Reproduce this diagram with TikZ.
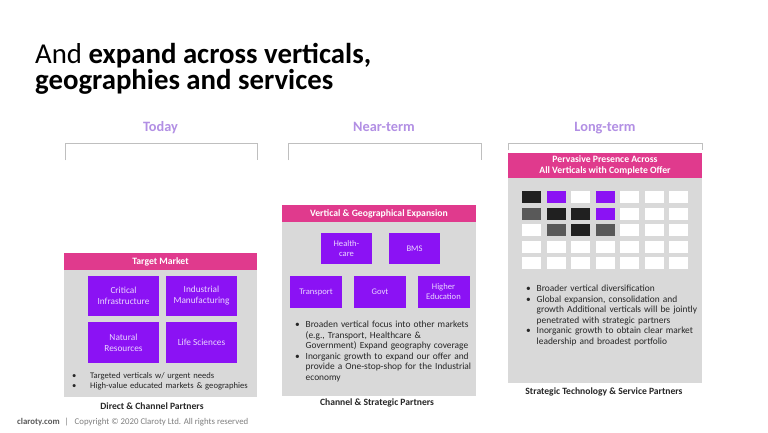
\documentclass[tikz,border=0pt]{standalone}
\usepackage{fontspec}
\setmainfont{Carlito}
\definecolor{pinkh}{HTML}{E03A8D}
\definecolor{purp}{HTML}{8B12F4}
\definecolor{purptxt}{HTML}{EAD6FF}
\definecolor{lav}{HTML}{B28FE4}
\definecolor{bodyg}{HTML}{D9D9D9}
\definecolor{brk}{HTML}{BFBFBF}
\definecolor{txt}{HTML}{262626}
\definecolor{dk}{HTML}{202020}
\definecolor{md}{HTML}{595959}
\definecolor{foot}{HTML}{7F7F7F}
\newcommand{\bitem}[2]{\noindent\hangindent=#1\hangafter=1\makebox[#1][l]{\textbullet}#2\par}
\newcommand{\listsetup}{\raggedright\hyphenpenalty=10000\relax}
\begin{document}
\begin{tikzpicture}[x=1pt,y=-1pt,
  hdr/.style={fill=pinkh,text=white,font=\bfseries\fontsize{9.7}{11}\selectfont,inner sep=0,align=center},
  bodybox/.style={fill=bodyg,inner sep=0},
  pbox/.style={fill=purp,text=purptxt,inner sep=0,align=center,font=\fontsize{9.3}{11}\selectfont},
  sbox/.style={fill=purp,text=purptxt,inner sep=0,align=center,font=\fontsize{8.6}{10}\selectfont},
  colhead/.style={text=lav,font=\bfseries\fontsize{14.3}{16}\selectfont,inner sep=0},
  partner/.style={text=txt,font=\bfseries\fontsize{9.6}{11}\selectfont,inner sep=0},
  blist/.style={text=txt,inner sep=0,anchor=north west,font=\fontsize{9.4}{10.5}\selectfont},
  cell/.style={inner sep=0,minimum width=19,minimum height=12},
  bracket/.style={draw=brk,line width=0.8pt}]
\useasboundingbox[fill=white] (0,0) rectangle (768,432);

% Title
\node[anchor=base west,inner sep=0,font=\fontsize{28.8}{26}\selectfont,text=black] (title1) at (35,63) {And \textbf{expand across verticals,}};
\node[anchor=base west,inner sep=0,font=\bfseries\fontsize{28.8}{26}\selectfont,text=black] (title2) at (35,89) {geographies and services};

% Column headers
\node[colhead] (today) at (160.5,128) {Today};
\node[colhead] (near) at (384,127) {Near-term};
\node[colhead] (long) at (605,128) {Long-term};

% Brackets
\draw[bracket] (65,160) -- (65,143) -- (257,143) -- (257,160);
\draw[bracket] (288,160) -- (288,143) -- (481,143) -- (481,160);
\draw[bracket] (508,150) -- (508,143) -- (702,143) -- (702,150);

% ---------------- Today
\node[bodybox,minimum width=193,minimum height=127] (tbody) at (160.5,333.5) {};
\node[hdr,minimum width=193,minimum height=17] (thdr) at (160.5,261.5) {Target Market};
\node[pbox,minimum width=71,minimum height=40] (ci) at (123.5,296) {Critical\\Infrastructure};
\node[pbox,minimum width=71,minimum height=40] (im) at (201.5,296) {Industrial\\Manufacturing};
\node[pbox,minimum width=71,minimum height=41] (nr) at (123.5,342.5) {Natural\\Resources};
\node[pbox,minimum width=71,minimum height=41] (ls) at (201.5,342.5) {Life Sciences};
\node[blist,text width=195,font=\fontsize{8.6}{10}\selectfont] (tlist) at (72,372) {\listsetup
\bitem{18pt}{Targeted verticals w/ urgent needs}%
\bitem{18pt}{High-value educated markets \& geographies}};
\node[partner] (tpart) at (152,406) {Direct \& Channel Partners};

% ---------------- Near-term
\node[bodybox,minimum width=194,minimum height=174] (nbody) at (379,309) {};
\node[hdr,minimum width=194,minimum height=17] (nhdr) at (379,213.5) {Vertical \& Geographical Expansion};
\node[sbox,minimum width=51,minimum height=31] (hc) at (346.5,248.5) {Health-\\care};
\node[sbox,minimum width=51,minimum height=31] (bms) at (414.5,248.5) {BMS};
\node[sbox,minimum width=52,minimum height=32] (tr) at (316,292) {Transport};
\node[sbox,minimum width=52,minimum height=32] (gv) at (380,292) {Govt};
\node[sbox,minimum width=52,minimum height=32] (he) at (443.5,292) {Higher\\Education};
\node[blist,text width=200] (nlist) at (295,321) {\listsetup
\bitem{10.5pt}{Broaden vertical focus into other markets\newline (e.g., Transport, Healthcare \&\newline Government) Expand geography coverage}%
\bitem{10.5pt}{Inorganic growth to expand our offer and\newline provide a One-stop-shop for the Industrial\newline economy}};
\node[partner] (npart) at (377,403) {Channel \& Strategic Partners};

% ---------------- Long-term
\node[bodybox,minimum width=194,minimum height=205] (lbody) at (605,280.5) {};
\node[hdr,minimum width=194,minimum height=25] (lhdr) at (605,165.5) {Pervasive Presence Across\\All Verticals with Complete Offer};
\foreach \r/\cols in {1/{dk,purp,white,purp,white,white,white},
                      2/{md,dk,dk,purp,white,white,white},
                      3/{white,md,dk,md,white,white,white},
                      4/{white,white,white,white,white,white,white},
                      5/{white,white,white,white,white,white,white}}{
  \foreach \cc [count=\c] in \cols {
    \node[cell,fill=\cc] (cell-\r-\c) at ({507+24.5*\c},{180.4+16.6*\r}) {};
  }
}
\node[blist,text width=190] (llist) at (526,285) {\listsetup
\bitem{10.5pt}{Broader vertical diversification}%
\bitem{10.5pt}{Global expansion, consolidation and\newline growth Additional verticals will be jointly\newline penetrated with strategic partners}%
\bitem{10.5pt}{Inorganic growth to obtain clear market\newline leadership and broadest portfolio}};
\node[partner] (lpart) at (604,392) {Strategic Technology \& Service Partners};

% Footer
\node[anchor=base west,inner sep=0,font=\fontsize{8.8}{10}\selectfont,text=foot] (footer) at (17,424) {\textbf{\color{md}claroty.com}\hspace{5pt}|\hspace{6pt}Copyright © 2020 Claroty Ltd. All rights reserved};
\end{tikzpicture}
\end{document}
